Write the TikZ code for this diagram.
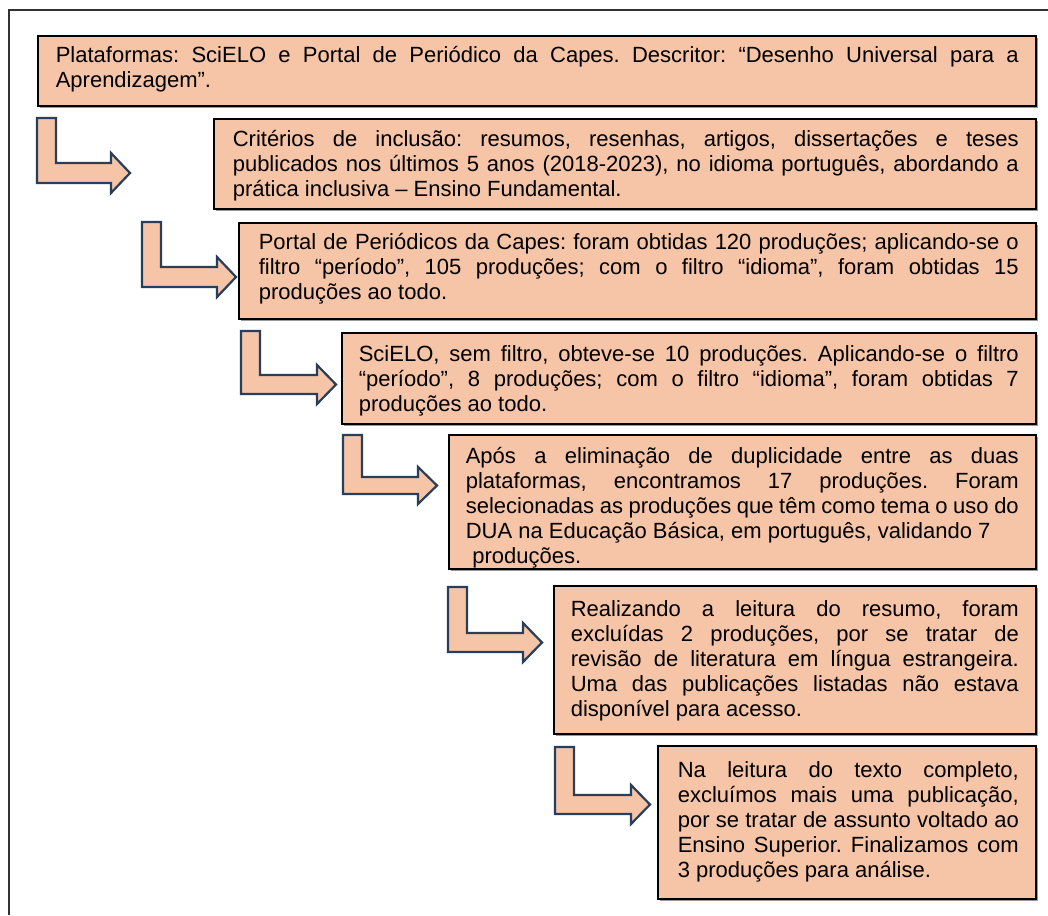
\documentclass[tikz,border=0pt]{standalone}
\usepackage{fontspec}
\setmainfont{Liberation Sans}
\usetikzlibrary{shadows}
\definecolor{peach}{RGB}{246,196,166}
\definecolor{arrowblue}{RGB}{40,62,90}
\definecolor{framegray}{RGB}{50,50,50}
% #1 height, #2 width, #3 top gap, #4 left pad, #5 text width, #6 text
\newcommand\boxtext[6]{\parbox[c][#1][t]{#2}{\vspace*{#3}\hspace*{#4}\parbox[t]{#5}{\fontsize{11pt}{12.5pt}\selectfont\frenchspacing\hyphenpenalty=10000\exhyphenpenalty=10000\tolerance=10000\strut #6}}}
\newcommand\bentarrow[6]{\draw[barrow] (#1,#2) -- ({#1+19},#2) -- ({#1+19},#3) -- (#5,#3) -- (#5,{#3-10}) -- (#6,{(#3+#4)/2}) -- (#5,{#4+10}) -- (#5,#4) -- (#1,#4) -- cycle;}
\begin{document}
\begin{tikzpicture}[x=0.5pt,y=-0.5pt,
  flowbox/.style={draw=black, line width=0.8pt, fill=peach, inner sep=0pt, anchor=north west,
    drop shadow={shadow xshift=0.9pt, shadow yshift=-0.9pt, fill=black!40, opacity=1}},
  barrow/.style={draw=arrowblue, line width=1.1pt, fill=peach, line join=miter},
  framestyle/.style={draw=framegray, line width=0.8pt}]
\useasboundingbox (0,0) rectangle (1048,915);
\draw[framestyle] (1048,10) -- (9,10) -- (9,915);

\node[flowbox] (b1) at (37,35) {\boxtext{35pt}{499pt}{4.75pt}{9pt}{481.5pt}{Plataformas: SciELO e Portal de Periódico da Capes. Descritor: “Desenho Universal para a\linebreak Aprendizagem”.}};

\node[flowbox] (b2) at (213,118) {\boxtext{45pt}{411pt}{5.25pt}{9.5pt}{393pt}{Critérios de inclusão: resumos, resenhas, artigos, dissertações e teses\linebreak publicados nos últimos 5 anos (2018-2023), no idioma português, abordando a\linebreak prática inclusiva – Ensino Fundamental.}};

\node[flowbox] (b3) at (238,222) {\boxtext{48pt}{398.5pt}{4.75pt}{10pt}{380pt}{Portal de Periódicos da Capes: foram obtidas 120 produções; aplicando-se o\linebreak filtro “período”, 105 produções; com o filtro “idioma”, foram obtidas 15\linebreak produções ao todo.}};

\node[flowbox] (b4) at (341,332) {\boxtext{45.5pt}{347pt}{5.75pt}{8.5pt}{330pt}{SciELO, sem filtro, obteve-se 10 produções. Aplicando-se o filtro\linebreak “período”, 8 produções; com o filtro “idioma”, foram obtidas 7\linebreak produções ao todo.}};

\node[flowbox] (b5) at (448,434) {\boxtext{67pt}{293.5pt}{5.75pt}{8.5pt}{276.5pt}{Após a eliminação de duplicidade entre as duas\linebreak plataformas, encontramos 17 produções. Foram\linebreak selecionadas as produções que têm como tema o uso do\linebreak DUA na Educação Básica, em português, validando 7\\ \hspace*{0.3em}produções.}};

\node[flowbox] (b6) at (553,585) {\boxtext{74pt}{241pt}{6.75pt}{8.5pt}{224pt}{Realizando a leitura do resumo, foram\linebreak excluídas 2 produções, por se tratar de\linebreak revisão de literatura em língua estrangeira.\linebreak Uma das publicações listadas não estava\linebreak disponível para acesso.}};

\node[flowbox] (b7) at (657,745) {\boxtext{76.5pt}{189pt}{7.25pt}{10pt}{170.5pt}{Na leitura do texto completo,\linebreak excluímos mais uma publicação,\linebreak por se tratar de assunto voltado ao\linebreak Ensino Superior. Finalizamos com\linebreak 3 produções para análise.}};

\bentarrow{37}{118}{163}{183}{111}{130}
\bentarrow{142}{222}{267}{287}{217}{236}
\bentarrow{241}{331}{375}{394}{317}{336}
\bentarrow{343}{435}{477}{494}{418}{437}
\bentarrow{448}{587}{633}{652}{523}{542}
\bentarrow{555}{747}{795}{814}{631}{650}
\end{tikzpicture}
\end{document}
